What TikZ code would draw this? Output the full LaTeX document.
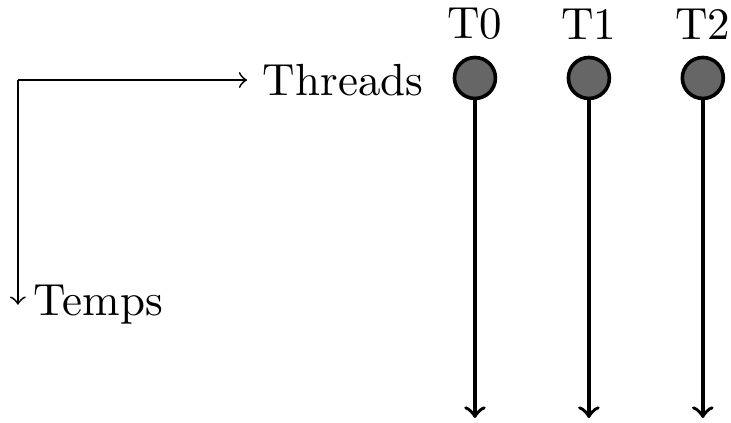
\documentclass[tikz,border=0pt]{standalone}
\usepackage{tikz}

\tikzset{
  thread/.style={circle, draw, thick, fill=black!60, minimum size=0.32cm, inner sep=0pt},
}

\begin{document}
\begin{tikzpicture}
  \useasboundingbox (0,0) rectangle (5.71,-3.297);

  % axes
  \coordinate (o) at (0.14,-0.625);
  \node[anchor=west] (threads) at (1.93,-0.625) {Threads};
  \node[anchor=west] (temps) at (0.14,-2.38) {Temps};
  \draw[->] (o) -- (threads.west);
  \draw[->] (o) -- (temps.west);

  % one line per thread
  \foreach \i/\x in {0/3.71,1/4.60,2/5.49} {
    \node[thread, label=above:T\i] (t\i) at (\x,-0.609) {};
    \coordinate (e\i) at (\x,-3.265);
    \draw[thick,->] (t\i.south) -- (e\i);
  }
\end{tikzpicture}
\end{document}
